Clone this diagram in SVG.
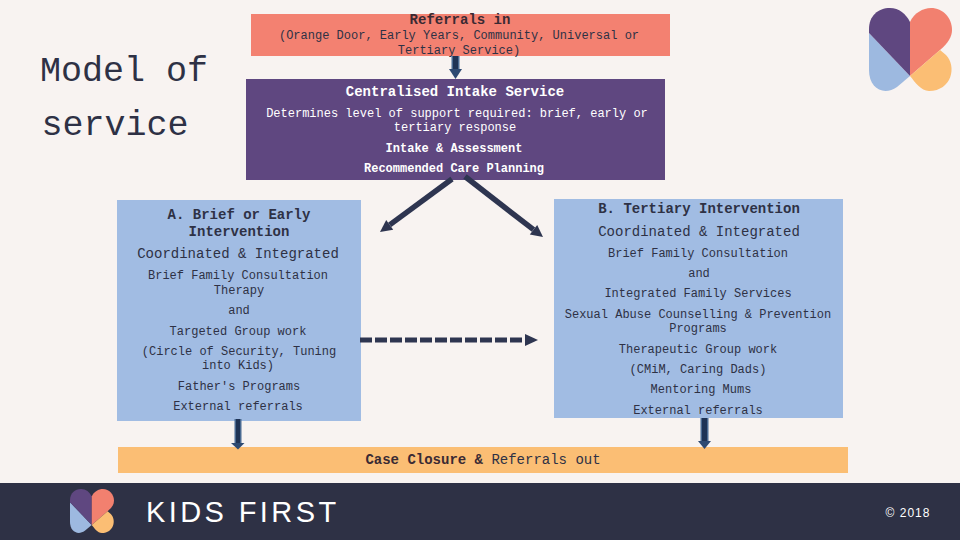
<svg xmlns="http://www.w3.org/2000/svg" width="960" height="540" viewBox="0 0 960 540">
<style>
text{font-family:"Liberation Mono","Courier New",monospace;text-anchor:middle;fill:#2e3145}
.s{font-size:12px}.m{font-size:14px}.b{font-weight:bold}.t{font-size:35px}
.w text{fill:#fff}.d{fill:#3a2a33}
.ar{fill:#2e4a72;stroke:none}.sd{fill:#4a6a92}.sc{fill:#1f3355}.dk{fill:#2e3550}
</style>
<defs>
<g id="logo">
<path d="M0 25L41 68L28 79C15 88 0 81 0 62Z" fill="#9db9e0"/>
<path d="M0 21C0 8 9 0 21 0C30 0 37 6 41 14V68L0 25Z" fill="#5f4780"/>
<path d="M41 14C45 5 54 0 62 0C74 0 83 10 83 22C83 29 79 35 71 42L41 68Z" fill="#f2806f"/>
<path d="M41 68L71 42L77 47C88 58 83 83 60 83C52 83 46 74 41 68Z" fill="#fbbe74"/>
</g>
</defs>
<rect width="960" height="540" fill="#f8f3f1"/>
<g id="title"><text class="t" x="124" y="81">Model of</text><text class="t" x="115" y="135">service</text></g>
<g id="referrals-in"><rect x="251" y="14" width="419" height="42" fill="#f38171"/>
<text class="m b d" x="460" y="24">Referrals in</text><text class="s" x="459" y="39">(Orange Door, Early Years, Community, Universal or</text><text class="s" x="459" y="54">Tertiary Service)</text></g>
<g id="intake" class="w"><rect x="246" y="79" width="419" height="101" fill="#5f4780"/>
<text class="m b" x="455" y="96">Centralised Intake Service</text>
<text class="s" x="457" y="117">Determines level of support required: brief, early or</text>
<text class="s" x="455" y="131">tertiary response</text>
<text class="s b" x="454" y="152">Intake &amp; Assessment</text>
<text class="s b" x="454" y="172">Recommended Care Planning</text></g>
<g id="box-a"><rect x="117" y="200" width="244" height="221" fill="#a1bce3"/>
<text class="m b" x="239" y="219">A. Brief or Early</text><text class="m b" x="239" y="236">Intervention</text>
<text class="m" x="238" y="258">Coordinated &amp; Integrated</text>
<text class="s" x="238" y="279">Brief Family Consultation</text><text class="s" x="239" y="294">Therapy</text>
<text class="s" x="239" y="314">and</text>
<text class="s" x="238" y="335">Targeted Group work</text>
<text class="s" x="239" y="355">(Circle of Security, Tuning</text><text class="s" x="238" y="369">into Kids)</text>
<text class="s" x="239" y="390">Father's Programs</text>
<text class="s" x="238" y="410">External referrals</text></g>
<g id="box-b"><rect x="554" y="199" width="289" height="219" fill="#a1bce3"/>
<text class="m b" x="699" y="213">B. Tertiary Intervention</text>
<text class="m" x="699" y="236">Coordinated &amp; Integrated</text>
<text class="s" x="698" y="257">Brief Family Consultation</text>
<text class="s" x="699" y="277">and</text>
<text class="s" x="698" y="297">Integrated Family Services</text>
<text class="s" x="698" y="318">Sexual Abuse Counselling &amp; Prevention</text><text class="s" x="698" y="332">Programs</text>
<text class="s" x="698" y="353">Therapeutic Group work</text>
<text class="s" x="698" y="373">(CMiM, Caring Dads)</text>
<text class="s" x="701" y="393">Mentoring Mums</text>
<text class="s" x="698" y="414">External referrals</text></g>
<g id="closure"><rect x="118" y="447" width="730" height="26" fill="#fbbe74"/>
<text class="m" x="483" y="464"><tspan class="b d">Case Closure &amp;</tspan> Referrals out</text></g>
<g id="connectors">
<rect class="sd" x="234.500" y="419" width="7" height="25"/><rect class="sc" x="236" y="419" width="4" height="25"/><path class="ar" d="M231 443H244.500L238 449.500Z"/>
<rect class="sd" x="700.500" y="418" width="8" height="24"/><rect class="sc" x="702" y="418" width="5" height="24"/><path class="ar" d="M698 441H711L704.500 449Z"/>
<rect class="sd" x="451.500" y="56" width="8" height="13"/><rect class="sc" x="453" y="56" width="5" height="14"/><path class="ar" d="M449 69H462L455.500 79Z"/>
<line x1="452" y1="179" x2="389.700" y2="224.900" stroke="#2e3550" stroke-width="5.500"/><path class="dk" d="M380 232L393.200 229.700L386.200 220.100Z"/>
<line x1="465" y1="176.500" x2="533.500" y2="229.700" stroke="#2e3550" stroke-width="5.500"/><path class="dk" d="M543 237L537.200 225L529.800 234.400Z"/>
<line x1="360" y1="340" x2="526" y2="340" stroke="#2e3550" stroke-width="5" stroke-dasharray="12 3"/><path class="dk" d="M525 334L538 340L525 346Z"/>
</g>
<g id="logo-top"><use href="#logo" transform="translate(869 8)"/></g>
<g id="footer"><rect y="483" width="960" height="57" fill="#2e3145"/>
<use href="#logo" transform="translate(70 489) scale(0.53)"/>
<text x="146" y="521.500" style="font-family:'Liberation Sans',sans-serif;font-size:29px;letter-spacing:3.400px;fill:#fff;text-anchor:start">KIDS FIRST</text>
<text x="908" y="517" style="font-family:'Liberation Sans',sans-serif;font-size:12px;letter-spacing:1px;fill:#fff">© 2018</text></g>
</svg>
